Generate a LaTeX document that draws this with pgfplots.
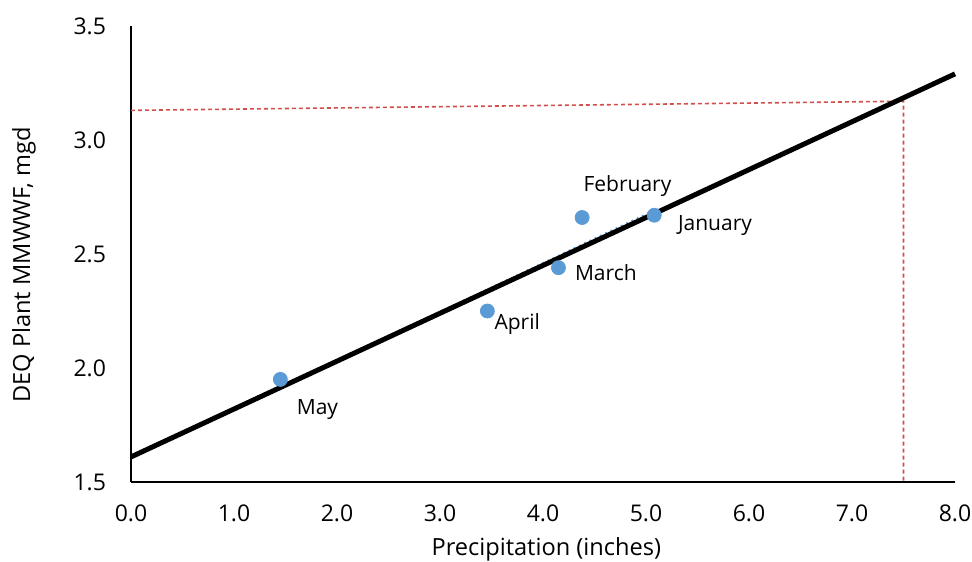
\documentclass[border=0pt]{standalone}
\usepackage{pgfplots}
\pgfplotsset{compat=1.18}
\usepackage{fontspec}
\setmainfont{Open Sans}

\definecolor{ptblue}{HTML}{5B9BD5}
\definecolor{guidered}{HTML}{D0504D}

\begin{document}
\begin{tikzpicture}
\useasboundingbox (-65.5pt,-39.5pt) rectangle (420.5pt,241pt);
\begin{axis}[
    scale only axis,
    width=412pt, height=228pt,
    xmin=0, xmax=8, ymin=1.5, ymax=3.5,
    xtick={0,1,...,8},
    ytick={1.5,2,2.5,3,3.5},
    axis lines*=left,
    axis line style={line width=0.75pt},
    tick style={draw=none},
    clip=false,
    font=\fontsize{10.5}{12}\selectfont,
    tick label style={font=\fontsize{11.5}{13}\selectfont},
    /pgf/number format/assume math mode=true,
    /pgf/number format/.cd, fixed, fixed zerofill, precision=1,
    /pgfplots/.cd,
    xticklabel style={yshift=-8pt},
    yticklabel style={xshift=-9pt},
    xlabel={Precipitation (inches)},
    ylabel={DEQ Plant MMWWF, mgd},
    every axis x label/.style={at={(axis description cs:0.504,-0.147)}, anchor=center,
        font=\fontsize{11.8}{14}\selectfont},
    every axis y label/.style={at={(axis description cs:-0.13,0.476)}, anchor=center, rotate=90,
        font=\fontsize{11.8}{14}\selectfont},
]
% guide lines
\addplot[guidered, line width=0.8pt, dash pattern=on 2pt off 1.5pt] coordinates {(0,3.13) (7.5,3.17) (7.5,1.5)};
% data
\addplot[only marks, mark=*, mark size=3.5pt, ptblue] table {
x     y
5.08  2.67
4.38  2.66
4.15  2.44
3.46  2.25
1.45  1.95
};
% excel trendline (mostly hidden)
\addplot[ptblue, dotted, line width=0.9pt] coordinates {(1.45,1.914) (5.08,2.692)};
% fitted line
\addplot[black, line width=2.5pt] coordinates {(0,1.61) (8,3.29)};
% labels
\node at (axis cs:1.81,1.816) {May};
\node at (axis cs:3.75,2.193) {April};
\node at (axis cs:4.61,2.417) {March};
\node at (axis cs:4.82,2.798) {February};
\node at (axis cs:5.67,2.627) {January};
\end{axis}
\end{tikzpicture}
\end{document}
